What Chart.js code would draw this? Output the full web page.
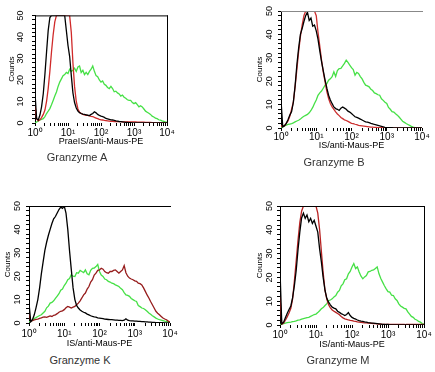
<!DOCTYPE html>
<html>
<head>
<meta charset="utf-8">
<script src="https://cdn.jsdelivr.net/npm/chart.js@4.4.1/dist/chart.umd.min.js"></script>
<style>
  body { margin: 0; background: #fff; }
  #wrap { position: relative; width: 435px; height: 372px; overflow: hidden; background: #fff; }
  #wrap canvas { position: absolute; }
  .name { position: absolute; font: 11px 'Liberation Sans', Arial, sans-serif; color: #333; white-space: nowrap; transform: translate(-50%, -50%); }
</style>
</head>
<body>
<div id="wrap">
  <canvas id="cA" width="174" height="149" style="left:5px;top:4px"></canvas>
  <canvas id="cB" width="183" height="157" style="left:251px;top:1px"></canvas>
  <canvas id="cK" width="183" height="157" style="left:-1px;top:196px"></canvas>
  <canvas id="cM" width="186" height="159" style="left:250px;top:196px"></canvas>
  <div class="name" style="left:77px;top:157px">Granzyme A</div>
  <div class="name" style="left:334px;top:162px">Granzyme B</div>
  <div class="name" style="left:80px;top:360px">Granzyme K</div>
  <div class="name" style="left:338px;top:360px">Granzyme M</div>
</div>
<script>
// Fluoreszenz-Kanäle (Mitte der Bins), 0.05 Dekaden Abstand
var channel = [
  1, 1.12, 1.26, 1.41, 1.58, 1.78, 2, 2.24, 2.51, 2.82, 3.16, 3.55, 3.98, 4.47, 5.01, 5.62, 6.31, 7.08, 7.94, 8.91,
  10, 11.2, 12.6, 14.1, 15.8, 17.8, 20, 22.4, 25.1, 28.2, 31.6, 35.5, 39.8, 44.7, 50.1, 56.2, 63.1, 70.8, 79.4, 89.1,
  100, 112, 126, 141, 158, 178, 200, 224, 251, 282, 316, 355, 398, 447, 501, 562, 631, 708, 794, 891,
  1000, 1122, 1259, 1413, 1585, 1778, 1995, 2239, 2512, 2818, 3162, 3548, 3981, 4467, 5012, 5623, 6310, 7079, 7943, 8913,
  10000
];
var decades = [1, 10, 100, 1000, 10000];
var decadeLabels = ['10\u2070', '10\u00b9', '10\u00b2', '10\u00b3', '10\u2074'];

// Granzyme A
var aBlack = [14, 2, 1.4, 3.7, 7.5, 13.6, 22.8, 33, 43, 49,
  50, 50, 50, 50, 50, 50, 50, 50, 50, 43,
  36, 31, 22, 14, 9.5, 7, 5.5, 4.8, 4.4, 4.1,
  4, 3.8, 3.6, 3.5, 4, 4.4, 5.2, 4.7, 4, 3.5,
  3.2, 3, 2.6, 2.1, 1.9, 1.7, 1.5, 1.4, 1.2, 1,
  0.9, 0.7, 0.6, 0.5, 0.4, 0.3, 0.3, 0.2, 0.2, 0.1,
  0.1, 0, 0, 0, 0, 0, 0, 0, 0, 0,
  0, 0, 0, 0, 0, 0, 0, 0, 0, 0,
  0];
var aRed = [8, 2, 1, 1.5, 2.5, 4, 6, 10, 16, 24,
  33, 41, 47, 50, 50, 50, 50, 50, 50, 50,
  50, 50, 42, 28, 17, 10, 6.5, 5, 4.4, 4,
  3.8, 3.6, 3.5, 3.3, 3.1, 3, 2.6, 2.3, 2, 1.7,
  1.5, 1.4, 1.2, 1.1, 1, 0.9, 0.8, 0.8, 0.7, 0.7,
  0.6, 0.6, 0.6, 0.5, 0.5, 0.5, 0.5, 0.5, 0.5, 0.5,
  0.5, 0.5, 0.4, 0.4, 0.4, 0.4, 0.4, 0.3, 0.3, 0.3,
  0.3, 0.2, 0.2, 0.1, 0.1, 0, 0, 0, 0, 0,
  0];
var aGreen = [0, 0.5, 1, 1.4, 1.7, 2, 3, 4.4, 5.5, 6.7,
  8.5, 10.5, 12.5, 14.4, 17, 19, 20.5, 22, 22.5, 23.5,
  23, 25, 24, 24.5, 25.5, 24, 26, 26.5, 23.5, 24.5,
  22.5, 23.5, 22.5, 24, 25, 26.5, 24, 22, 21.5, 20,
  19, 19.5, 18, 17.5, 16.5, 16, 17, 16, 14.5, 14.8,
  14, 13.5, 12.5, 13, 12, 11.5, 10.8, 10.5, 10.5, 9.5,
  9, 9.5, 8.5, 7.5, 8, 7.5, 6.5, 5.5, 5, 4.5,
  4, 3.2, 2.8, 2.3, 2, 1.5, 1.3, 1, 0.8, 0.5,
  0.3];

// Granzyme B
var bBlack = [12, 0.5, 1, 2, 3.5, 5.5, 7, 11, 18, 27,
  34, 40, 42.5, 45.5, 48, 49.5, 46, 47, 43.5, 44,
  41.5, 38, 33, 28.5, 24.5, 20.5, 17, 14, 12, 10.4,
  9, 8.3, 8, 7.5, 8.5, 9, 8.5, 8, 7.2, 6.8,
  6.2, 5.5, 4.8, 4.5, 4.2, 3.8, 3.4, 3, 2.6, 2.5,
  2.3, 2, 1.8, 1.5, 1.3, 1.1, 0.9, 0.7, 0.5, 0.3,
  0.2, 0.2, 0.1, 0.1, 0, 0, 0, 0, 0, 0,
  0, 0, 0, 0, 0, 0, 0, 0, 0, 0,
  0];
var bRed = [1, 0.5, 1, 2, 3, 5, 8, 11, 17.6, 25,
  32.6, 39, 44, 48, 50, 50, 50, 50, 50, 50,
  48, 41, 35, 29, 24, 19.7, 15.5, 12.6, 10.5, 9,
  8, 6.9, 6, 5.3, 4.5, 4, 3.5, 3.2, 2.8, 2.4,
  2, 1.9, 1.6, 1.4, 1.1, 1, 0.9, 0.8, 0.7, 0.6,
  0.5, 0.4, 0.4, 0.3, 0.3, 0.2, 0.2, 0.2, 0.1, 0.1,
  0, 0, 0, 0, 0, 0, 0, 0, 0, 0,
  0, 0, 0, 0, 0, 0, 0, 0, 0, 0,
  0];
var bGreen = [0, 0.5, 0.9, 1.2, 1.5, 1.7, 1.9, 2.2, 2.6, 3,
  3.3, 3.8, 4.5, 5, 5.4, 5.8, 6.5, 7.5, 8.8, 10.5,
  12, 14, 15, 15.8, 17, 18.3, 19, 20.4, 21, 21.9,
  24, 22, 24.5, 25.4, 25.5, 26.5, 27.6, 29, 28, 26.9,
  25.8, 25, 22.6, 23.8, 23.3, 22, 21, 19.5, 18.3, 18,
  17.6, 16.5, 16, 15, 14.7, 14.2, 14, 12.5, 11.8, 11,
  10.5, 8.8, 8, 7, 6.8, 6.1, 5.5, 4.7, 3.8, 2.9,
  2.4, 1.9, 1.5, 1.1, 0.7, 0.4, 0.2, 0, 0, 0,
  0];

// Granzyme K
var kBlack = [8.5, 0.5, 1.5, 3.5, 6.5, 10, 15, 21, 26, 31,
  34.5, 37.5, 40, 42.5, 44.5, 45.5, 47, 48.5, 49.5, 49,
  50, 47, 40, 31, 23, 15, 10, 7.5, 6.4, 5.6,
  5, 4.6, 4.3, 3.8, 3.5, 3.1, 2.8, 2.6, 2.5, 2.2,
  2.1, 2, 1.9, 1.7, 1.6, 1.5, 1.4, 1.4, 1.3, 1.2,
  1.2, 1.1, 1.1, 1, 1.2, 1.8, 1.2, 1, 0.9, 0.9,
  0.8, 0.8, 0.7, 0.7, 0.6, 0.6, 0.5, 0.5, 0.4, 0.4,
  0.3, 0.3, 0.2, 0.2, 0.1, 0.1, 0.1, 0, 0, 0,
  0];
var kRed = [4, 0.8, 1, 1.3, 1.5, 1.7, 2, 2.2, 2.5, 2.6,
  2.4, 2.7, 3, 2.8, 3.3, 3.5, 4, 4.6, 5, 5.2,
  5.7, 6.5, 7.1, 6.8, 6.4, 6.8, 7.1, 7.8, 8.5, 9.5,
  10.7, 12, 12.8, 14.5, 15.6, 17.5, 18.5, 20.5, 21.3, 22.5,
  22.7, 23.4, 23, 22, 21.5, 21.3, 22, 22, 22.5, 22.7,
  22, 21.3, 22, 22.7, 24.5, 21.5, 20, 19.2, 18.8, 18.5,
  18, 17.8, 17, 16.8, 16.3, 15, 13.5, 12, 10.7, 9.2,
  7.8, 6.4, 5, 4.2, 3.5, 2.8, 2.1, 1.7, 1.4, 0.8,
  0.5];
var kGreen = [0.5, 0.7, 1.2, 2, 2.3, 2.8, 3.2, 3.5, 4.3, 5,
  6.5, 7.2, 8.5, 8.8, 9.5, 10.5, 11.5, 12.5, 14, 14.5,
  16, 17, 18.5, 19, 20.6, 20, 19.9, 21.5, 21.3, 22.5,
  22, 21.5, 22.7, 21, 20.6, 22.5, 23.4, 23.5, 24.1, 25,
  22, 20.5, 19.9, 18.8, 18.5, 17.8, 17.5, 17, 16.8, 16.3,
  16, 15.6, 14.8, 14.2, 13, 12, 11.8, 11.4, 10.5, 10,
  9.5, 9.2, 7.5, 7, 6.4, 6.2, 5.7, 5, 4.3, 3.7,
  3.1, 2.6, 2.1, 1.7, 1.4, 1.2, 1, 0.8, 0.7, 0.5,
  0.3];

// Granzyme M
var mBlack = [23, 0.5, 1.2, 3, 4.8, 6.5, 8, 11.5, 16.5, 23,
  31.5, 39, 45, 47, 44.8, 46.2, 43.4, 44.8, 42.7, 44,
  41.5, 39, 32, 26.5, 20, 14.5, 11.2, 9.6, 8.5, 7.5,
  7.1, 6.8, 5.8, 5.3, 4.8, 4.4, 4, 4.4, 5.2, 4,
  3.2, 2.8, 2.5, 2.1, 1.8, 1.6, 1.5, 1.3, 1.2, 1,
  0.9, 0.8, 0.8, 0.7, 0.6, 0.5, 0.4, 0.3, 0.3, 0.2,
  0.2, 0, 0, 0, 0, 0, 0, 0, 0, 0,
  0, 0, 0, 0, 0, 0, 0, 0, 0, 0,
  0];
var mRed = [12, 0.3, 0.8, 2, 3.4, 5, 7, 11, 18.5, 27,
  35.5, 43, 47.8, 50, 50, 50, 50, 50, 50, 50,
  50, 47, 40, 31, 22, 14.5, 10.8, 8.5, 7.2, 6.3,
  5.8, 5.3, 4.8, 4.3, 3.6, 3, 2.6, 2.4, 2.1, 1.9,
  1.8, 1.6, 1.5, 1.3, 1.2, 1.1, 1, 0.9, 0.9, 0.8,
  0.8, 0.7, 0.6, 0.6, 0.5, 0.4, 0.4, 0.3, 0.3, 0.3,
  0.3, 0.3, 0.3, 0.3, 0.3, 0.3, 0.3, 0.3, 0.3, 0.3,
  0.2, 0.2, 0.2, 0.2, 0.2, 0.2, 0.2, 0.2, 0.2, 0.2,
  0.2];
var mGreen = [0.3, 0.4, 0.6, 0.8, 1, 1.1, 1.2, 1.4, 1.5, 1.7,
  2, 2.2, 2.5, 2.7, 2.9, 3.1, 3.2, 3.6, 4, 4.4,
  4.6, 5.2, 6, 6.8, 7.3, 8.2, 9, 10.3, 10.5, 11,
  11.8, 12.4, 13.8, 14.5, 16.5, 17.3, 19, 19.4, 21.5, 22.5,
  24.4, 25.8, 23.7, 24.4, 22.3, 20.5, 19.4, 20.2, 20.8, 22.3,
  22.5, 23, 23.2, 23.7, 24.4, 21.5, 19.5, 18, 16.5, 15.2,
  14, 13.8, 12.5, 12.4, 11, 10.3, 8.9, 8, 7.5, 7,
  6.8, 5.5, 4.6, 3.6, 3.2, 2.4, 2.1, 1.5, 1.2, 0.6,
  0.3];

Chart.defaults.font.family = "'Liberation Sans Narrow', 'Liberation Sans', Arial, sans-serif";
Chart.defaults.color = '#000';

// Rahmen oben / rechts
var rahmen = {
  id: 'rahmen',
  afterDraw: function (chart, args, opts) {
    var ctx = chart.ctx, a = chart.chartArea;
    ctx.save();
    ctx.lineWidth = 1;
    ctx.strokeStyle = opts.top;
    ctx.beginPath();
    ctx.moveTo(a.left, a.top + 0.5);
    ctx.lineTo(a.right + 1, a.top + 0.5);
    ctx.stroke();
    if (opts.right) {
      ctx.strokeStyle = opts.right;
      ctx.beginPath();
      ctx.moveTo(a.right + 0.5, a.top);
      ctx.lineTo(a.right + 0.5, a.bottom);
      ctx.stroke();
    }
    ctx.restore();
  }
};

function punkte(werte) {
  return channel.map(function (c, i) { return { x: c, y: werte[i] }; });
}

function histogramm(id, p) {
  new Chart(document.getElementById(id), {
    type: 'line',
    data: {
      datasets: [
        { data: punkte(p.black), borderColor: '#000000' },
        { data: punkte(p.red), borderColor: p.redColor },
        { data: punkte(p.green), borderColor: '#46e046' }
      ]
    },
    plugins: [rahmen],
    options: {
      responsive: false,
      animation: false,
      events: [],
      layout: { padding: { top: 10, right: 12, left: 0, bottom: 0 } },
      elements: {
        point: { radius: 0 },
        line: { borderWidth: 1.3, tension: 0 }
      },
      plugins: {
        legend: { display: false },
        tooltip: { enabled: false },
        rahmen: { top: p.topColor, right: p.rightColor }
      },
      scales: {
        x: {
          type: 'logarithmic',
          min: 1,
          max: 10000,
          border: { display: false },
          grid: { drawOnChartArea: false, tickLength: 3, color: '#000' },
          afterBuildTicks: function (s) {
            s.ticks = s.ticks.filter(function (t) { return t.significand !== 15; });
          },
          ticks: {
            autoSkip: false,
            maxRotation: 0,
            padding: p.xTickPad,
            font: { size: 10 },
            callback: function (v) {
              var i = decades.indexOf(v);
              return i >= 0 ? decadeLabels[i] : '';
            }
          },
          title: {
            display: true,
            text: p.xTitle,
            font: { size: 9 },
            padding: { top: 0, bottom: p.xTitlePad }
          },
          afterFit: function (s) { s.height = 30; }
        },
        y: {
          min: 0,
          max: 50,
          border: { display: true, color: '#000', width: 1 },
          grid: { drawOnChartArea: false, tickLength: 3, color: '#000' },
          ticks: {
            stepSize: 2,
            autoSkip: false,
            minRotation: 90,
            maxRotation: 90,
            crossAlign: 'center',
            padding: p.yTickPad,
            font: { size: 9 },
            callback: function (v) { return v % 10 === 0 ? String(v) : ''; }
          },
          title: {
            display: true,
            text: 'Counts',
            font: { size: 8 },
            padding: { top: p.yTitlePad, bottom: 0 }
          },
          afterFit: function (s) { s.width = 30; }
        }
      }
    }
  });
}

histogramm('cA', { black: aBlack, red: aRed, green: aGreen, redColor: '#d02a2a',
  xTitle: 'PraeIS/anti-Maus-PE', topColor: '#000', rightColor: '#000',
  xTickPad: 1, xTitlePad: 6, yTickPad: 6, yTitlePad: 2 });
histogramm('cB', { black: bBlack, red: bRed, green: bGreen, redColor: '#cc3030',
  xTitle: 'IS/anti-Maus-PE', topColor: '#888', rightColor: null,
  xTickPad: 0, xTitlePad: 7, yTickPad: 3, yTitlePad: 3.5 });
histogramm('cK', { black: kBlack, red: kRed, green: kGreen, redColor: '#961c1c',
  xTitle: 'IS/anti-Maus-PE', topColor: '#000', rightColor: null,
  xTickPad: 2, xTitlePad: 4.5, yTickPad: 3, yTitlePad: 3.5 });
histogramm('cM', { black: mBlack, red: mRed, green: mGreen, redColor: '#b82222',
  xTitle: 'IS/anti-Maus-PE', topColor: '#000', rightColor: '#000',
  xTickPad: 1, xTitlePad: 5.5, yTickPad: 2, yTitlePad: 4.5 });
</script>
</body>
</html>
